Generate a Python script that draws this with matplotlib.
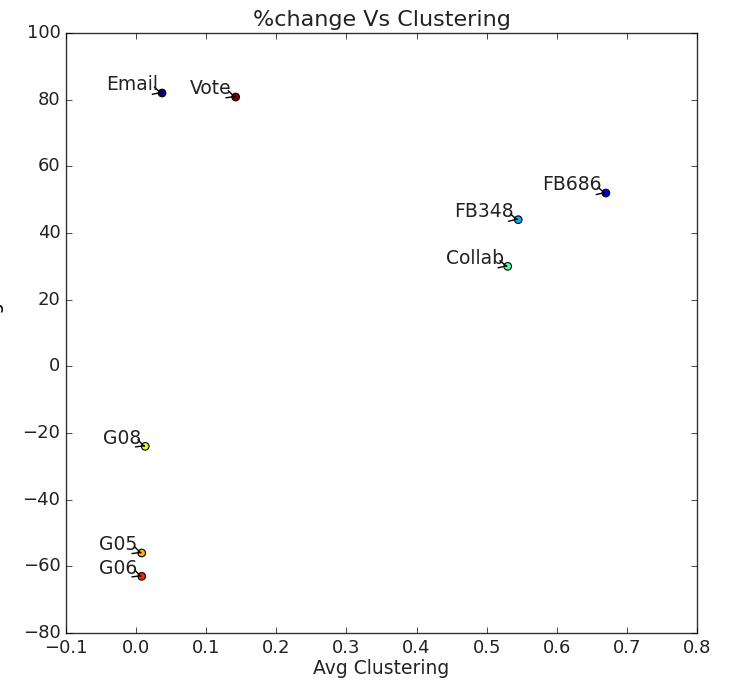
import matplotlib
matplotlib.use('Agg')
import matplotlib.pyplot as plt
import numpy as np

# average clustering vs % change per network
names = ['Email', 'Vote', 'FB686', 'FB348', 'Collab', 'G08', 'G05', 'G06']
avg_clustering = [0.037, 0.142, 0.670, 0.545, 0.530, 0.013, 0.008, 0.008]
pct_change = [82.0, 80.8, 52.0, 44.0, 30.0, -24.0, -56.0, -63.0]
color_vals = [0.0, 1.0, 0.1, 0.3, 0.45, 0.62, 0.72, 0.87]

plt.style.use('classic')
plt.rcParams['font.family'] = 'DejaVu Sans'

fig = plt.figure(figsize=(7.30, 6.81), dpi=100, facecolor='white')
ax = fig.add_axes([0.0904, 0.0705, 0.8644, 0.881])

colors = plt.cm.jet(np.array(color_vals))
ax.scatter(avg_clustering, pct_change, c=colors, s=30, edgecolors='black', linewidths=0.8, zorder=3)

for name, x, y in zip(names, avg_clustering, pct_change):
    ax.annotate(name, xy=(x, y), xytext=(-3, -1), textcoords='offset points',
                ha='right', va='bottom', fontsize=13.5, color='#222222',
                arrowprops=dict(arrowstyle='->', color='black', lw=1,
                                shrinkA=0, shrinkB=2))

ax.set_xlim(-0.1, 0.8)
ax.set_ylim(-80, 100)
ax.set_xticks(np.arange(-0.1, 0.81, 0.1))
ax.set_yticks(np.arange(-80, 101, 20))
ax.tick_params(labelsize=13, direction='in', top=True, right=True)
ax.set_title('%change Vs Clustering', fontsize=16, color='#222222')
ax.set_xlabel('Avg Clustering', fontsize=13.5, labelpad=2, color='#222222')
# y label sits at the very left edge of the figure
ax.set_ylabel('%change', fontsize=13.5)
ax.yaxis.set_label_coords(-0.1005, 0.5)
for lab in ax.get_xticklabels() + ax.get_yticklabels():
    lab.set_color('#222222')
for sp in ax.spines.values():
    sp.set_color('#333333')

fig.savefig('out.png', dpi=100, facecolor='white')
